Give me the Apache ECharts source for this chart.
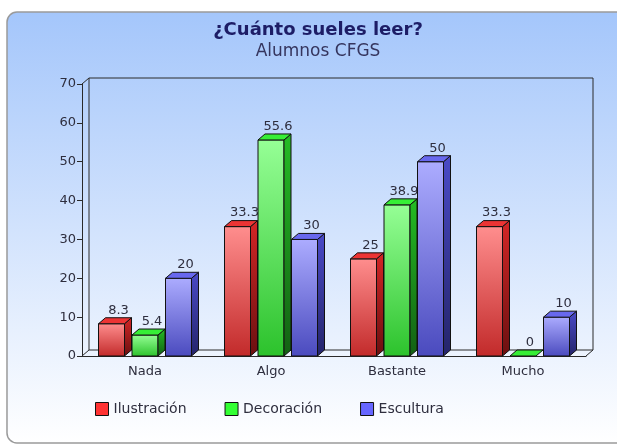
<!DOCTYPE html>
<html>
<head>
<meta charset="utf-8">
<script src="https://cdn.jsdelivr.net/npm/echarts@6/dist/echarts.min.js"></script>
<style>html,body{margin:0;padding:0;background:#fff;}#c{width:617px;height:446px;}</style>
</head>
<body>
<div id="c"></div>
<script>
var categories = ['Nada', 'Algo', 'Bastante', 'Mucho'];
var seriesNames = ['Ilustración', 'Decoración', 'Escultura'];
var ilustracion = [8.3, 33.3, 25, 33.3];
var decoracion = [5.4, 55.6, 38.9, 0];
var escultura = [20, 30, 50, 10];
var yTicks = [0, 10, 20, 30, 40, 50, 60, 70];

var FONT = 'DejaVu Sans';
var DX = 7, DY = 6, BW = 26, STEP = 33.5;
var palette = [
  {legend: '#ff3333', frontTop: '#ff8e8e', frontBot: '#c22a2a', sideTop: '#d42626', sideBot: '#6a1010', top: '#ec3434'},
  {legend: '#33ff33', frontTop: '#96ff96', frontBot: '#2cc22c', sideTop: '#24bc24', sideBot: '#136013', top: '#36ee36'},
  {legend: '#6666ff', frontTop: '#acacff', frontBot: '#4a4abe', sideTop: '#4a4ac8', sideBot: '#24246a', top: '#6868ee'}
];

function grad(a, b) {
  return new echarts.graphic.LinearGradient(0, 0, 0, 1, [{offset: 0, color: a}, {offset: 1, color: b}]);
}

function barRender(si) {
  var c = palette[si];
  return function (params, api) {
    var cat = api.value(0), v = api.value(1);
    var base = api.coord([cat, 0]);
    var top = api.coord([cat, v]);
    var cx = base[0] + (si - 1) * STEP;
    var x0 = cx - BW / 2, x1 = cx + BW / 2;
    var yT = top[1], yB = base[1];
    var stroke = '#111';
    var children = [];
    if (yB - yT > 0.5) {
      children.push({type: 'rect', shape: {x: x0, y: yT, width: BW, height: yB - yT},
        style: {fill: grad(c.frontTop, c.frontBot), stroke: stroke, lineWidth: 1}});
      children.push({type: 'polygon', shape: {points: [[x1, yT], [x1 + DX, yT - DY], [x1 + DX, yB - DY], [x1, yB]]},
        style: {fill: grad(c.sideTop, c.sideBot), stroke: stroke, lineWidth: 1}});
    }
    children.push({type: 'polygon', shape: {points: [[x0, yT], [x1, yT], [x1 + DX, yT - DY], [x0 + DX, yT - DY]]},
      style: {fill: c.top, stroke: stroke, lineWidth: 1}});
    children.push({type: 'text', style: {text: String(v), x: cx + DX, y: yT - DY - 1,
      align: 'center', verticalAlign: 'bottom', font: '13px "' + FONT + '"', fill: '#2e2e3e'}});
    return {type: 'group', children: children};
  };
}

function frameRender(params, api) {
  var cs = params.coordSys;
  var L = cs.x, T = cs.y, R = cs.x + cs.width, B = cs.y + cs.height;
  var st = {stroke: '#2a2a2a', lineWidth: 1};
  function ln(x1, y1, x2, y2) { return {type: 'line', shape: {x1: x1, y1: y1, x2: x2, y2: y2}, style: st}; }
  return {type: 'group', children: [
    ln(L + DX, T - DY, R + DX, T - DY),
    ln(R + DX, T - DY, R + DX, B - DY),
    ln(L + DX, T - DY, L + DX, B - DY),
    ln(L + DX, B - DY, R + DX, B - DY),
    ln(L, T, L + DX, T - DY),
    ln(L, B, L + DX, B - DY),
    ln(R, B, R + DX, B - DY)
  ]};
}

var allVals = [ilustracion, decoracion, escultura];
var series = [{
  type: 'custom', name: 'frame', renderItem: frameRender, data: [[0, 0]], z: 1, silent: true, clip: false
}];
allVals.forEach(function (vals, si) {
  series.push({
    type: 'custom', name: seriesNames[si], renderItem: barRender(si), clip: false, z: 3,
    itemStyle: {color: palette[si].legend},
    encode: {x: 0, y: 1},
    data: vals.map(function (v, i) { return [i, v]; })
  });
});

var chart = echarts.init(document.getElementById('c'), null, {renderer: 'canvas'});
chart.setOption({
  animation: false,
  backgroundColor: '#ffffff',
  graphic: [{
    type: 'rect', z: -10, silent: true,
    shape: {x: 7, y: 12, width: 720, height: 431, r: [10, 0, 0, 10]},
    style: {fill: grad('#a4c6fb', '#ffffff'), stroke: '#9a9a9a', lineWidth: 1.5}
  }],
  title: {
    text: '¿Cuánto sueles leer?',
    subtext: 'Alumnos CFGS',
    left: 318, top: 21, textAlign: 'center', padding: 0, itemGap: 4,
    textStyle: {fontFamily: FONT, fontSize: 18, fontWeight: 'bold', color: '#1d1d66'},
    subtextStyle: {fontFamily: FONT, fontSize: 17, color: '#35355e'}
  },
  legend: {
    left: 95, top: 402, padding: 0, icon: 'rect', itemWidth: 13, itemHeight: 13, itemGap: 38,
    textStyle: {fontFamily: FONT, fontSize: 14, color: '#2e2e3e'},
    data: seriesNames.map(function (n, i) {
      return {name: n, itemStyle: {color: palette[i].legend, borderColor: '#111', borderWidth: 1}};
    })
  },
  grid: {left: 82, right: 31, top: 84, bottom: 90, containLabel: false, outerBoundsMode: 'none'},
  xAxis: {
    type: 'category', data: categories,
    axisLine: {lineStyle: {color: '#2a2a2a', width: 1}},
    axisTick: {alignWithLabel: true, length: 5, lineStyle: {color: '#2a2a2a'}},
    axisLabel: {fontFamily: FONT, fontSize: 13, color: '#2e2e3e', margin: 9},
    splitLine: {show: false}
  },
  yAxis: {
    type: 'value', min: yTicks[0], max: yTicks[yTicks.length - 1], interval: yTicks[1] - yTicks[0],
    axisLine: {show: true, lineStyle: {color: '#2a2a2a', width: 1}},
    axisTick: {show: true, length: 5, lineStyle: {color: '#2a2a2a'}},
    axisLabel: {fontFamily: FONT, fontSize: 13, color: '#2e2e3e', margin: 6},
    splitLine: {show: false}
  },
  series: series
});
</script>
</body>
</html>
